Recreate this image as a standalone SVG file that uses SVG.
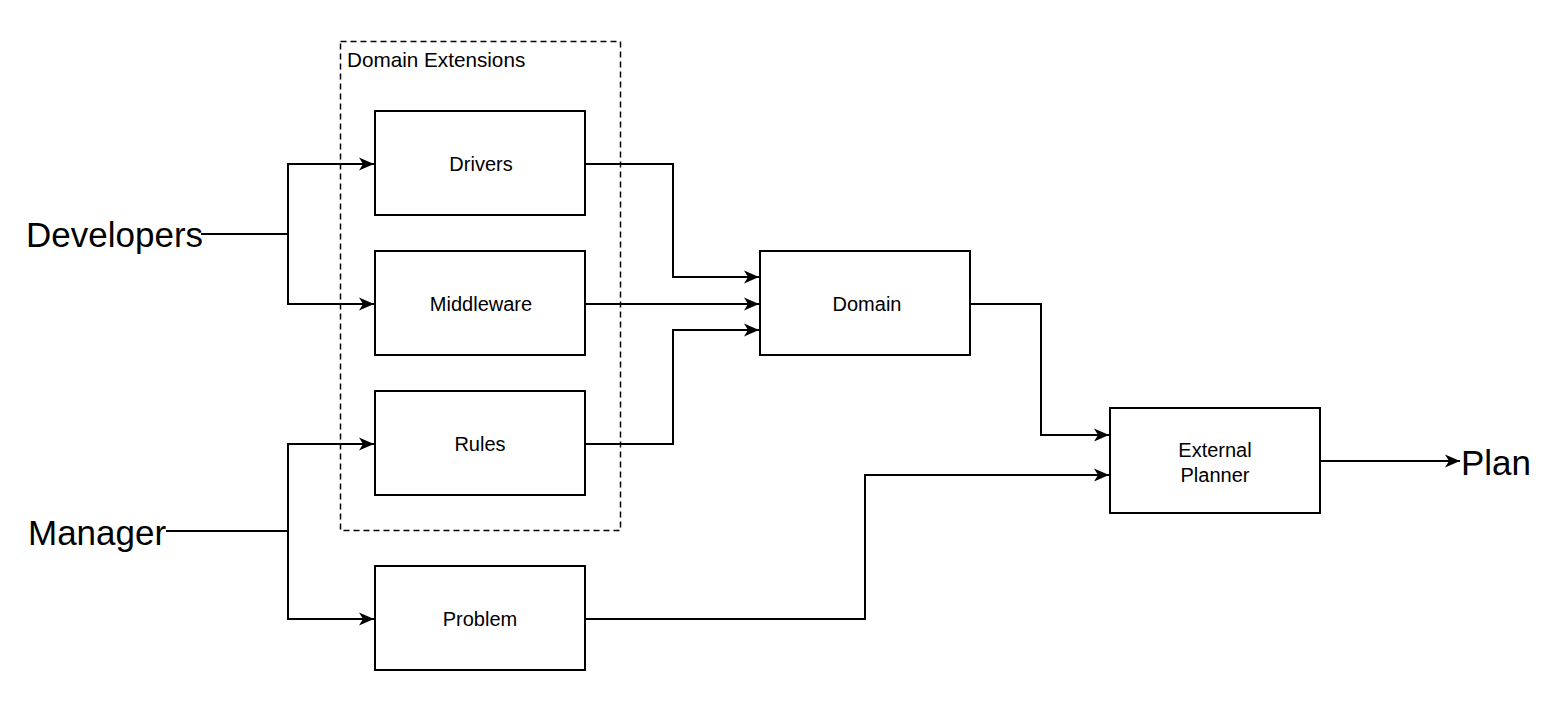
<svg xmlns="http://www.w3.org/2000/svg" width="1554" height="715" viewBox="0 0 1554 715">
<style>
.box{fill:#fff;stroke:#000;stroke-width:2}
.lbl{font-family:"Liberation Sans",Arial,sans-serif;font-size:20px;fill:#000;text-anchor:middle}
.big{font-family:"Liberation Sans",Arial,sans-serif;font-size:35px;fill:#000}
.edge{fill:none;stroke:#000;stroke-width:2}
</style>
<defs>
<marker id="arr" markerUnits="userSpaceOnUse" markerWidth="16" markerHeight="16" refX="15" refY="8" orient="auto">
<path d="M0,1.5 L15,8 L0,14.5 L4,8 Z" fill="#000"/>
</marker>
</defs>
<rect width="1554" height="715" fill="#fff"/>
<g id="domain-extensions">
<rect x="340.5" y="41.5" width="280" height="489" fill="none" stroke="#000" stroke-width="1.5" stroke-dasharray="6,4"/>
<text x="347" y="67" font-family="'Liberation Sans',Arial,sans-serif" font-size="20.7" fill="#000">Domain Extensions</text>
</g>
<g id="connectors">
<path class="edge" d="M201,234 H288 V164 H374" marker-end="url(#arr)"/>
<path class="edge" d="M288,234 V304 H374" marker-end="url(#arr)"/>
<path class="edge" d="M166,531 H288 V444 H374" marker-end="url(#arr)"/>
<path class="edge" d="M288,531 V619 H374" marker-end="url(#arr)"/>
<path class="edge" d="M585,164 H673 V277 H759" marker-end="url(#arr)"/>
<path class="edge" d="M585,304 H759" marker-end="url(#arr)"/>
<path class="edge" d="M585,444 H673 V330 H759" marker-end="url(#arr)"/>
<path class="edge" d="M970,304 H1041 V435 H1109" marker-end="url(#arr)"/>
<path class="edge" d="M585,619 H865 V475 H1109" marker-end="url(#arr)"/>
<path class="edge" d="M1320,461 H1460" marker-end="url(#arr)"/>
</g>
<g id="developers"><text class="big" x="26" y="247">Developers</text></g>
<g id="manager"><text class="big" x="28" y="545">Manager</text></g>
<g id="plan"><text class="big" x="1461" y="475">Plan</text></g>
<g id="drivers"><rect class="box" x="375" y="111" width="210" height="104"/><text class="lbl" x="481" y="171">Drivers</text></g>
<g id="middleware"><rect class="box" x="375" y="251" width="210" height="104"/><text class="lbl" x="481" y="311">Middleware</text></g>
<g id="rules"><rect class="box" x="375" y="391" width="210" height="104"/><text class="lbl" x="480" y="451">Rules</text></g>
<g id="problem"><rect class="box" x="375" y="566" width="210" height="104"/><text class="lbl" x="480" y="626">Problem</text></g>
<g id="domain"><rect class="box" x="760" y="251" width="210" height="104"/><text class="lbl" x="867" y="311">Domain</text></g>
<g id="external-planner"><rect class="box" x="1110" y="408" width="210" height="105"/><text class="lbl" x="1215" y="457">External</text><text class="lbl" x="1215" y="482">Planner</text></g>
</svg>
